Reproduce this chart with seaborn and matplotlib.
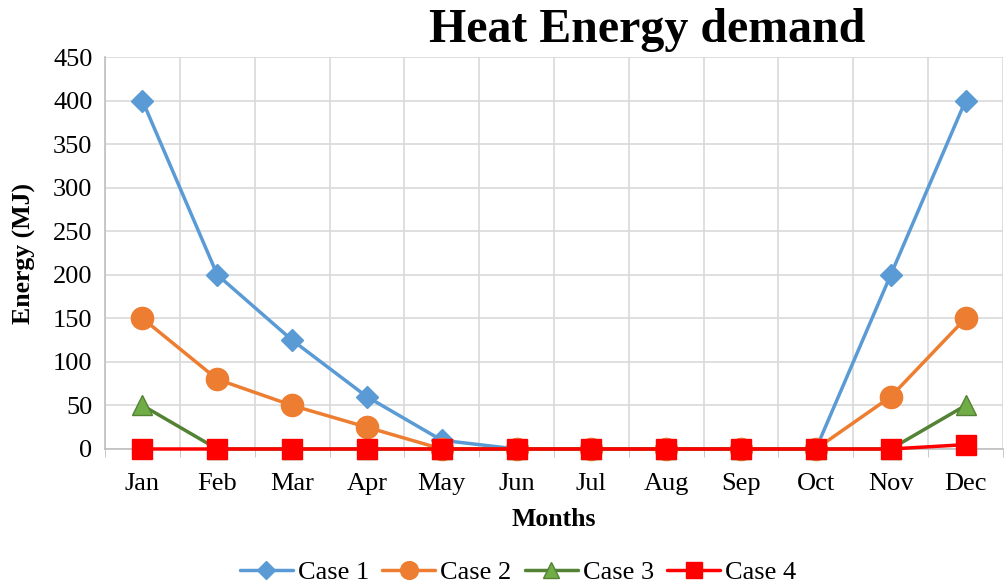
import seaborn as sns
import pandas as pd
import matplotlib.pyplot as plt

# data
months = ['Jan', 'Feb', 'Mar', 'Apr', 'May', 'Jun', 'Jul', 'Aug', 'Sep', 'Oct', 'Nov', 'Dec']
case1 = [400, 200, 125, 60, 10, 0, 0, 0, 0, 0, 200, 400]
case2 = [150, 80, 50, 25, 0, 0, 0, 0, 0, 0, 60, 150]
case3 = [50, 0, 0, 0, 0, 0, 0, 0, 0, 0, 0, 50]
case4 = [0, 0, 0, 0, 0, 0, 0, 0, 0, 0, 0, 5]
cases = ['Case 1', 'Case 2', 'Case 3', 'Case 4']

df = pd.DataFrame({'Month': months, 'Case 1': case1, 'Case 2': case2,
                   'Case 3': case3, 'Case 4': case4})
long = df.melt(id_vars='Month', var_name='Case', value_name='Energy')

sns.set_style('white')
plt.rcParams['font.family'] = ['Liberation Serif', 'DejaVu Serif']
plt.rcParams['text.color'] = 'black'
plt.rcParams['axes.labelcolor'] = 'black'
plt.rcParams['xtick.color'] = 'black'
plt.rcParams['ytick.color'] = 'black'

palette = {'Case 1': '#5B9BD5', 'Case 2': '#ED7D31', 'Case 3': '#548235', 'Case 4': '#FF0000'}
markers = {'Case 1': 'D', 'Case 2': 'o', 'Case 3': '^', 'Case 4': 's'}
sizes = {'Case 1': 11, 'Case 2': 16, 'Case 3': 14, 'Case 4': 14}
faces = {'Case 1': '#5B9BD5', 'Case 2': '#ED7D31', 'Case 3': '#70AD47', 'Case 4': '#FF0000'}

fig = plt.figure(figsize=(10.05, 5.85), dpi=100)
ax = fig.add_axes([0.1045, 0.2325, 0.8935, 0.67])

for c in cases:
    sub = long[long['Case'] == c]
    sns.lineplot(data=sub, x='Month', y='Energy', ax=ax, color=palette[c],
                 marker=markers[c], markersize=sizes[c], markerfacecolor=faces[c],
                 markeredgecolor=palette[c], markeredgewidth=1, linewidth=2.5,
                 label=c, sort=False, clip_on=False, zorder=3)

ax.set_xlim(-0.5, 11.5)
ax.set_ylim(0, 450)
ax.set_yticks(range(0, 451, 50))
ax.set_xticks(range(12))
ax.set_xticklabels(months)
ax.set_xticks([i + 0.5 for i in range(-1, 12)], minor=True)
ax.grid(True, which='major', axis='y', color='#d9d9d9', linewidth=1.2)
ax.grid(True, which='minor', axis='x', color='#d9d9d9', linewidth=1.2)
ax.tick_params(axis='y', which='major', labelsize=19, length=0, pad=9)
ax.tick_params(axis='x', which='major', labelsize=19, length=0, pad=17)
ax.tick_params(axis='x', which='minor', length=6, color='#bfbfbf', bottom=True)
for s in ['top', 'right']:
    ax.spines[s].set_visible(False)
for s in ['left', 'bottom']:
    ax.spines[s].set_color('#bfbfbf')
    ax.spines[s].set_linewidth(1.2)

ax.set_xlabel('Months', fontsize=18.5, fontweight='bold', labelpad=10)
ax.set_ylabel('Energy (MJ)', fontsize=18.5, fontweight='bold', labelpad=12)

fig.text(0.644, 0.948, 'Heat Energy demand', ha='center', va='center',
         fontsize=34.5, fontweight='bold')

ax.legend(loc='upper center', bbox_to_anchor=(0.46, -0.258), ncol=4, frameon=False,
          fontsize=19, handlelength=2.0, handletextpad=0.2, columnspacing=0.5,
          markerscale=0.8, borderaxespad=0)

fig.savefig('out.png', dpi=100)
